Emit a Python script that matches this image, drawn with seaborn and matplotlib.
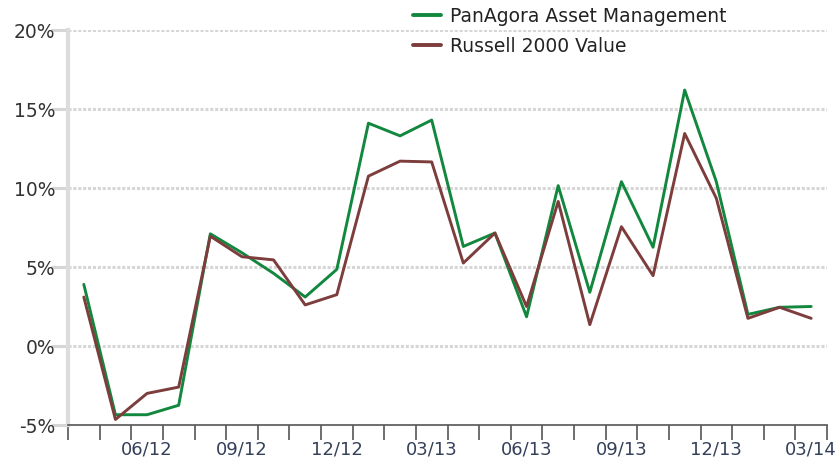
import pandas as pd
import numpy as np
import matplotlib
matplotlib.use("Agg")
import matplotlib.pyplot as plt
import seaborn as sns

# =========================
# DATA (monthly returns, %)
# =========================
months = ["04/12", "05/12", "06/12", "07/12", "08/12", "09/12", "10/12", "11/12",
          "12/12", "01/13", "02/13", "03/13", "04/13", "05/13", "06/13", "07/13",
          "08/13", "09/13", "10/13", "11/13", "12/13", "01/14", "02/14", "03/14"]

panagora = [3.9, -4.35, -4.35, -3.75, 7.1, 5.9, 4.6, 3.1,
            4.85, 14.1, 13.3, 14.3, 6.3, 7.15, 1.85, 10.15,
            3.4, 10.4, 6.25, 16.2, 10.4, 2.0, 2.45, 2.5]

russell = [3.1, -4.65, -3.0, -2.6, 6.95, 5.65, 5.45, 2.6,
           3.25, 10.75, 11.7, 11.65, 5.25, 7.15, 2.5, 9.15,
           1.35, 7.55, 4.45, 13.45, 9.35, 1.75, 2.45, 1.75]

series_names = ["PanAgora Asset Management", "Russell 2000 Value"]
colors = ["#12873E", "#7D3D3D"]

tick_labels = ["06/12", "09/12", "12/12", "03/13", "06/13", "09/13", "12/13", "03/14"]

df = pd.DataFrame({
    "idx": list(range(len(months))) * 2,
    "ret": panagora + russell,
    "series": [series_names[0]] * len(months) + [series_names[1]] * len(months),
})

# =========================
# PLOT
# =========================
sns.set_style("white", {"xtick.bottom": True, "ytick.left": True})
plt.rcParams["font.family"] = ["DejaVu Sans"]

fig = plt.figure(figsize=(8.39, 4.61), dpi=100)
ax = fig.add_axes([68 / 839, 1 - 425 / 461, (827 - 68) / 839, (425 - 30) / 461])

ax.grid(False)
for v in [0, 5, 10, 15, 20]:
    ax.axhline(v, color="#d6d6d6", lw=2.2, ls=(0, (1, 0.6)), zorder=0)

sns.lineplot(data=df, x="idx", y="ret", hue="series", palette=colors,
             linewidth=2.1, ax=ax, legend=False)

ax.set_xlim(-0.5, 23.5)
ax.set_ylim(-5, 20)
ax.set_xlabel("")
ax.set_ylabel("")

# y axis
ax.set_yticks([-5, 0, 5, 10, 15, 20])
ax.set_yticklabels(["-5%", "0%", "5%", "10%", "15%", "20%"])
ax.tick_params(axis="y", left=True, length=12, width=2.2, color="#d6d6d6", pad=-3,
               labelsize=13.5, labelcolor="#333333")

# x axis: boundary ticks, labels every quarter
ax.set_xticks(np.arange(-0.5, 24, 1))
ax.set_xticklabels([])
ax.set_xticks([months.index(m) for m in tick_labels], minor=True)
ax.set_xticklabels(tick_labels, minor=True)
ax.tick_params(axis="x", which="major", bottom=True, length=11, width=1.2,
               color="#555555", direction="out")
ax.tick_params(axis="x", which="minor", bottom=True, length=0, pad=11,
               labelsize=13, labelcolor="#34405a")

for side in ["top", "right"]:
    ax.spines[side].set_visible(False)
ax.spines["left"].set_color("#dcdcdc")
ax.spines["left"].set_linewidth(3)
ax.spines["bottom"].set_color("#555555")
ax.spines["bottom"].set_linewidth(1.2)

handles = [plt.Line2D([], [], color=c, lw=2.8) for c in colors]
fig.legend(handles, series_names, loc="upper left",
           bbox_to_anchor=(402 / 839, 1.01), frameon=False,
           fontsize=13.5, handlelength=1.5, labelspacing=0.6,
           handletextpad=0.45, borderaxespad=0.2, labelcolor="#222222")

plt.savefig("out.png", dpi=100)
